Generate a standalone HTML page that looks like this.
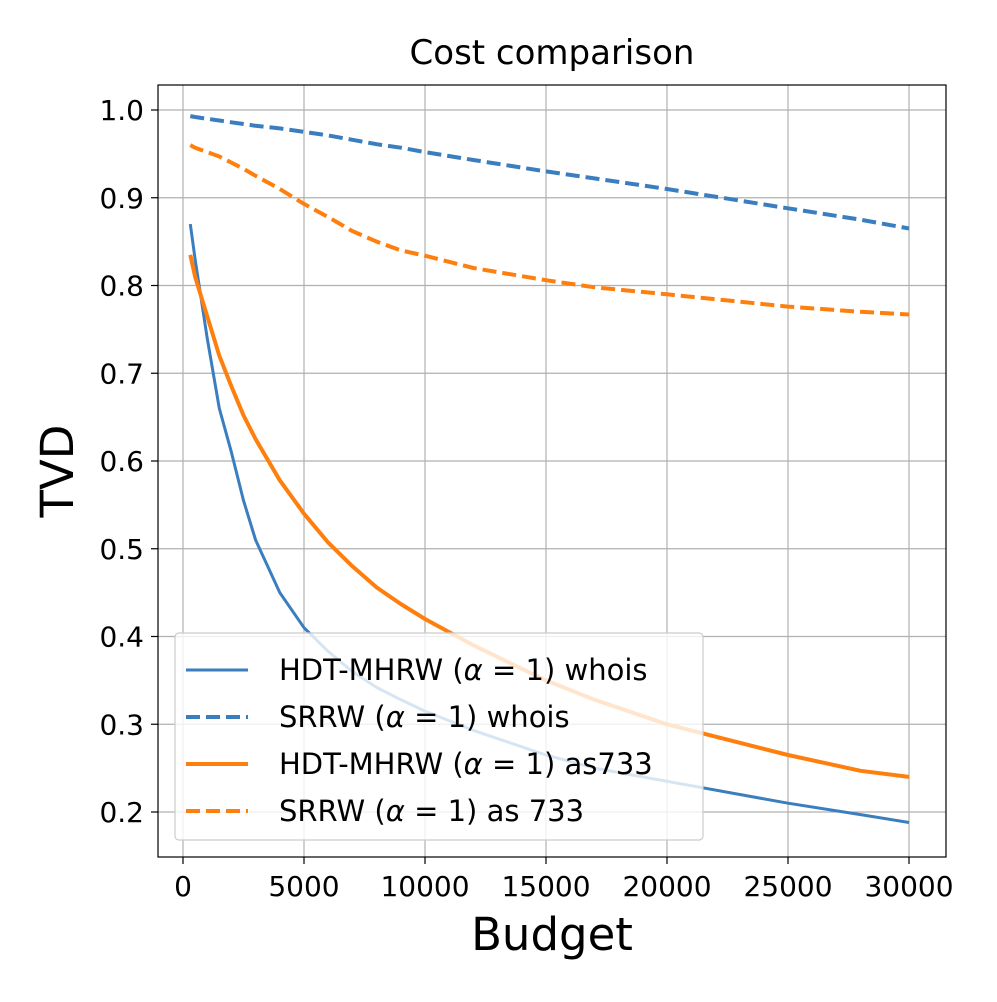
<!DOCTYPE html>
<html><head><meta charset="utf-8"><style>
body{margin:0;background:#fff;}
svg{font-family:"DejaVu Sans","Liberation Sans",sans-serif;}
</style></head><body>
<svg id="chart" width="997" height="997" viewBox="0 0 997 997">
<rect width="997" height="997" fill="#fff"/>
<g id="grid"></g>
<g id="series"></g>
<rect x="158" y="85" width="788" height="772" fill="none" stroke="#000" stroke-width="1.2"/>
<g id="ticks"></g>
<text x="552" y="64" font-size="34" text-anchor="middle">Cost comparison</text>
<text x="552" y="950" font-size="45" text-anchor="middle">Budget</text>
<text transform="translate(73,471) rotate(-90)" font-size="45" text-anchor="middle">TVD</text>
<g id="legend"></g>
</svg>
<script>
const xTicks=[0,5000,10000,15000,20000,25000,30000];
const yTicks=[0.2,0.3,0.4,0.5,0.6,0.7,0.8,0.9,1.0];
const budget=[300,500,1000,1500,2000,2500,3000,4000,5000,6000,7000,8000,9000,10000,12000,15000,17000,20000,25000,28000,30000];
const hdtWhois=[0.87,0.83,0.74,0.66,0.61,0.555,0.51,0.45,0.41,0.383,0.36,0.342,0.328,0.315,0.293,0.265,0.25,0.235,0.21,0.197,0.188];
const srrwWhois=[0.993,0.992,0.99,0.988,0.986,0.984,0.982,0.979,0.975,0.971,0.966,0.961,0.957,0.952,0.943,0.93,0.922,0.91,0.888,0.875,0.865];
const hdtAs733=[0.835,0.81,0.765,0.72,0.685,0.652,0.625,0.578,0.54,0.507,0.48,0.456,0.437,0.42,0.39,0.35,0.328,0.3,0.265,0.247,0.24];
const srrwAs733=[0.96,0.957,0.952,0.947,0.94,0.933,0.925,0.91,0.893,0.878,0.862,0.85,0.84,0.834,0.82,0.806,0.798,0.79,0.776,0.77,0.767];
const X=v=>183+v*(909-183)/30000;
const Y=v=>812-(v-0.2)*(812-110)/0.8;
const NS="http://www.w3.org/2000/svg";
function mk(t,a,p){const e=document.createElementNS(NS,t);for(const k in a)e.setAttribute(k,a[k]);p.appendChild(e);return e;}
const grid=document.getElementById('grid'),ticks=document.getElementById('ticks');
xTicks.forEach(v=>{
 const g=mk('line',{x1:X(v),x2:X(v),y1:85,y2:857,stroke:'#b0b0b0','stroke-width':1.2},grid);
 
 
 const t=mk('line',{x1:X(v),x2:X(v),y1:857,y2:864,stroke:'#000','stroke-width':1.2},ticks);
 
 
 const l=mk('text',{x:X(v),y:896,'font-size':28,'text-anchor':'middle'},ticks);l.textContent=v;
 
 
});
yTicks.forEach(v=>{
 const g=mk('line',{x1:158,x2:946,y1:Y(v),y2:Y(v),stroke:'#b0b0b0','stroke-width':1.2},grid);
 
 
 const t=mk('line',{x1:151,x2:158,y1:Y(v),y2:Y(v),stroke:'#000','stroke-width':1.2},ticks);
 
 
 const l=mk('text',{x:144,y:Y(v)+10,'font-size':28,'text-anchor':'end'},ticks);l.textContent=v.toFixed(1);
 
 
});
const series=document.getElementById('series');
const defs=[
 {d:hdtWhois,c:'#3a7ebf',w:3,dash:'',n:'hdt-mhrw-whois-line'},
 {d:srrwWhois,c:'#3a7ebf',w:4,dash:'14,6',n:'srrw-whois-line'},
 {d:hdtAs733,c:'#ff7f0e',w:4,dash:'',n:'hdt-mhrw-as733-line'},
 {d:srrwAs733,c:'#ff7f0e',w:4,dash:'14,6',n:'srrw-as733-line'}];
defs.forEach(s=>{
 const pts=budget.map((b,i)=>X(b).toFixed(1)+','+Y(s.d[i]).toFixed(1)).join(' ');
 const p=mk('polyline',{points:pts,fill:'none',stroke:s.c,'stroke-width':s.w,'stroke-dasharray':s.dash,'stroke-linejoin':'round'},series);
 
 
});
const lg=document.getElementById('legend');
const box=mk('rect',{x:175,y:633,width:528,height:207,rx:4,fill:'#fff','fill-opacity':0.8,stroke:'#ccc','stroke-width':1.2},lg);


const labels=['HDT-MHRW (<tspan font-style="italic">α</tspan> = 1) whois','SRRW (<tspan font-style="italic">α</tspan> = 1) whois','HDT-MHRW (<tspan font-style="italic">α</tspan> = 1) as733','SRRW (<tspan font-style="italic">α</tspan> = 1) as 733'];
defs.forEach((s,i)=>{
 const y=670+i*47;
 const l=mk('line',{x1:186,x2:248,y1:y,y2:y,stroke:s.c,'stroke-width':s.w,'stroke-dasharray':s.dash},lg);
 
 
 const t=mk('text',{x:279,y:y+10,'font-size':29},lg);t.innerHTML=labels[i];
 
 
});
</script>
</body></html>
